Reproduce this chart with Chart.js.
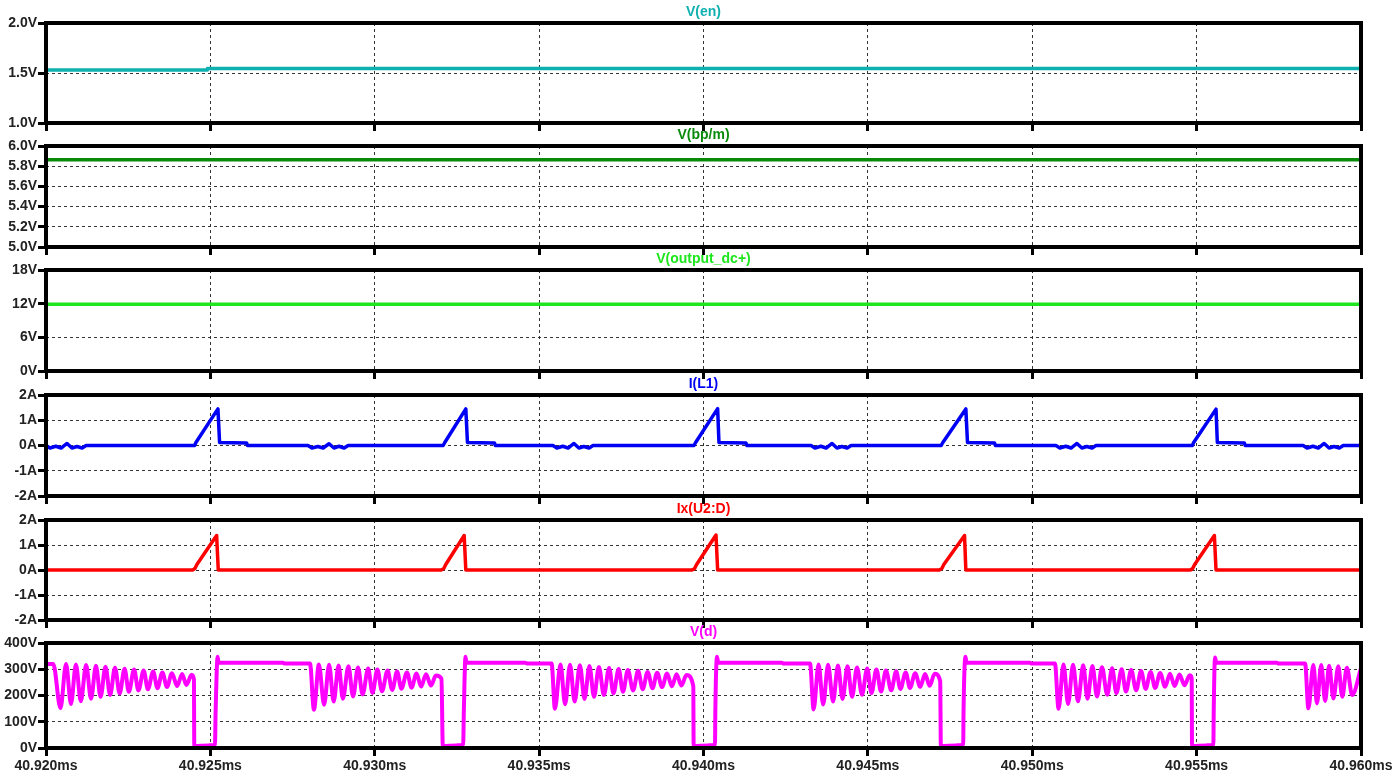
<!DOCTYPE html>
<html>
<head>
<meta charset="utf-8">
<title>Transient waveforms</title>
<script src="https://cdn.jsdelivr.net/npm/chart.js@4.4.1/dist/chart.umd.min.js"></script>
<style>
  html, body { margin: 0; padding: 0; background: #fff; }
  body { width: 1400px; height: 779px; position: relative; overflow: hidden; }
  .panel { position: absolute; left: 0; width: 1400px; }
</style>
</head>
<body>
<div class="panel" style="top:1px;height:132px"><canvas id="pEn"></canvas></div>
<div class="panel" style="top:124px;height:133px"><canvas id="pBp"></canvas></div>
<div class="panel" style="top:248px;height:133px"><canvas id="pOut"></canvas></div>
<div class="panel" style="top:373px;height:133px"><canvas id="pIl1"></canvas></div>
<div class="panel" style="top:498px;height:132px"><canvas id="pIx"></canvas></div>
<div class="panel" style="top:621px;height:158px"><canvas id="pVd"></canvas></div>
<script>
// time axis (ms)
const xTicks = [40.920, 40.925, 40.930, 40.935, 40.940, 40.945, 40.950, 40.955, 40.960];

// y tick values per pane
const enTicks = [1.0, 1.5, 2.0];
const bpTicks = [5.0, 5.2, 5.4, 5.6, 5.8, 6.0];
const outTicks = [0, 6, 12, 18];
const ampTicks = [-2, -1, 0, 1, 2];
const vdTicks = [0, 100, 200, 300, 400];

// V(en)
const enTime = [40.92000, 40.92490, 40.92491, 40.96000];
const enVolt = [1.53, 1.53, 1.545, 1.545];

// V(bp/m)
const bpTime = [40.92000, 40.96000];
const bpVolt = [5.865, 5.865];

// V(output_dc+)
const outTime = [40.92000, 40.96000];
const outVolt = [11.9, 11.9];

// I(L1)
const il1Time = [
  40.92000, 40.92012, 40.92030, 40.92046, 40.92064, 40.92079, 40.92094, 40.92110, 40.92122,
  40.92452, 40.92456, 40.92523, 40.92528, 40.92610, 40.92613,
  40.92797, 40.92809, 40.92827, 40.92843, 40.92861, 40.92876, 40.92891, 40.92907, 40.92919,
  40.93208, 40.93213, 40.93277, 40.93282, 40.93364, 40.93367,
  40.93542, 40.93554, 40.93572, 40.93588, 40.93606, 40.93621, 40.93636, 40.93652, 40.93664,
  40.93971, 40.93976, 40.94043, 40.94047, 40.94129, 40.94132,
  40.94327, 40.94339, 40.94357, 40.94373, 40.94391, 40.94406, 40.94421, 40.94437, 40.94449,
  40.94723, 40.94728, 40.94798, 40.94803, 40.94885, 40.94888,
  40.95072, 40.95084, 40.95102, 40.95118, 40.95136, 40.95151, 40.95166, 40.95182, 40.95194,
  40.95487, 40.95491, 40.95559, 40.95563, 40.95645, 40.95648,
  40.95824, 40.95836, 40.95854, 40.95870, 40.95888, 40.95903, 40.95918, 40.95934, 40.95946,
  40.96000
];
const il1Amp = [
  0, -0.1, -0.03, -0.1, 0.08, -0.1, -0.04, -0.1, 0,
  0, 0.12, 1.45, 0.12, 0.1, 0,
  0, -0.1, -0.04, -0.1, 0.07, -0.1, -0.03, -0.1, 0,
  0, 0.12, 1.45, 0.12, 0.1, 0,
  0, -0.1, -0.03, -0.1, 0.08, -0.1, -0.04, -0.1, 0,
  0, 0.12, 1.46, 0.12, 0.1, 0,
  0, -0.1, -0.03, -0.1, 0.08, -0.1, -0.04, -0.1, 0,
  0, 0.12, 1.45, 0.12, 0.1, 0,
  0, -0.1, -0.03, -0.1, 0.08, -0.1, -0.04, -0.1, 0,
  0, 0.12, 1.44, 0.12, 0.1, 0,
  0, -0.1, -0.03, -0.1, 0.08, -0.1, -0.04, -0.1, 0,
  0
];

// Ix(U2:D)
const ixTime = [
  40.92000,
  40.92446, 40.92453, 40.92459, 40.92519, 40.92524,
  40.93202, 40.93210, 40.93216, 40.93272, 40.93277,
  40.93965, 40.93973, 40.93979, 40.94038, 40.94043,
  40.94717, 40.94725, 40.94731, 40.94794, 40.94798,
  40.95481, 40.95488, 40.95494, 40.95554, 40.95559,
  40.96000
];
const ixAmp = [
  0,
  0, 0.06, 0.22, 1.38, 0,
  0, 0.06, 0.22, 1.38, 0,
  0, 0.06, 0.22, 1.40, 0,
  0, 0.06, 0.22, 1.38, 0,
  0, 0.06, 0.22, 1.38, 0,
  0
];

// V(d)
const vdTime = [
  40.92000, 40.92022, 40.92044, 40.92061, 40.92076, 40.92091, 40.92106, 40.92122, 40.92137, 40.92152,
  40.92166, 40.92181, 40.92195, 40.92210, 40.92224, 40.92239, 40.92252, 40.92268, 40.92281, 40.92297,
  40.92310, 40.92326, 40.92339, 40.92354, 40.92368, 40.92383, 40.92399, 40.92414, 40.92427, 40.92443,
  40.92450,
  40.92451, 40.92496, 40.92514, 40.92516, 40.92522, 40.92525, 40.92721, 40.92724, 40.92803,
  40.92815, 40.92830, 40.92846, 40.92861, 40.92875, 40.92890, 40.92903, 40.92920, 40.92934, 40.92949,
  40.92963, 40.92980, 40.92993, 40.93008, 40.93022, 40.93039, 40.93053, 40.93068, 40.93081, 40.93098,
  40.93112, 40.93127, 40.93141, 40.93156, 40.93171, 40.93186, 40.93203,
  40.93207, 40.93250, 40.93269, 40.93271, 40.93276, 40.93279, 40.93457, 40.93463, 40.93538,
  40.93548, 40.93565, 40.93579, 40.93594, 40.93608, 40.93624, 40.93638, 40.93653, 40.93667, 40.93682,
  40.93697, 40.93713, 40.93726, 40.93742, 40.93755, 40.93770, 40.93786, 40.93801, 40.93815, 40.93830,
  40.93845, 40.93859, 40.93874, 40.93889, 40.93904, 40.93918, 40.93933, 40.93948, 40.93969,
  40.93970, 40.94015, 40.94035, 40.94036, 40.94041, 40.94045, 40.94238, 40.94242, 40.94324,
  40.94335, 40.94350, 40.94364, 40.94379, 40.94394, 40.94409, 40.94423, 40.94438, 40.94452, 40.94467,
  40.94482, 40.94498, 40.94511, 40.94526, 40.94540, 40.94555, 40.94571, 40.94586, 40.94599, 40.94615,
  40.94628, 40.94644, 40.94659, 40.94674, 40.94688, 40.94703, 40.94720,
  40.94722, 40.94770, 40.94790, 40.94791, 40.94797, 40.94800, 40.94993, 40.94996, 40.95069,
  40.95080, 40.95095, 40.95109, 40.95124, 40.95139, 40.95155, 40.95168, 40.95183, 40.95197, 40.95212,
  40.95228, 40.95243, 40.95256, 40.95272, 40.95285, 40.95301, 40.95316, 40.95331, 40.95345, 40.95360,
  40.95374, 40.95389, 40.95404, 40.95419, 40.95433, 40.95448, 40.95463, 40.95479, 40.95485,
  40.95486, 40.95531, 40.95551, 40.95552, 40.95556, 40.95560, 40.95744, 40.95748, 40.95830,
  40.95840, 40.95855, 40.95866, 40.95879, 40.95891, 40.95903, 40.95916, 40.95931, 40.95943, 40.95957,
  40.95973, 40.96000
];
const vdVolt = [
  320, 320, 152, 320, 168, 318, 178, 316, 188, 313,
  195, 310, 202, 306, 208, 302, 214, 299, 219, 295,
  224, 291, 228, 288, 232, 285, 236, 282, 240, 279,
  262,
  7, 10, 12, 140, 348, 325, 325, 322, 322,
  146, 318, 165, 317, 177, 314, 188, 311, 196, 307,
  204, 303, 210, 299, 216, 295, 221, 291, 226, 288,
  230, 284, 234, 281, 238, 276, 264,
  7, 10, 12, 140, 348, 325, 325, 322, 322,
  150, 318, 167, 317, 177, 315, 187, 312, 195, 309,
  202, 305, 208, 301, 214, 297, 219, 294, 224, 290,
  228, 287, 232, 284, 235, 281, 238, 278, 236,
  7, 10, 12, 140, 348, 325, 325, 322, 322,
  147, 318, 166, 317, 177, 314, 187, 311, 195, 307,
  203, 303, 209, 299, 215, 295, 220, 292, 225, 288,
  229, 285, 233, 282, 237, 283, 255,
  7, 10, 12, 140, 348, 325, 325, 322, 322,
  150, 318, 168, 317, 178, 315, 188, 312, 196, 308,
  203, 304, 209, 300, 215, 297, 220, 293, 225, 290,
  229, 286, 233, 283, 236, 280, 239, 277, 267,
  7, 10, 12, 140, 345, 325, 325, 322, 322,
  151, 316, 170, 316, 179, 313, 189, 311, 195, 306,
  202, 303
];

const tickFont = { family: '"Liberation Sans", Arial, sans-serif', size: 14, weight: 'bold' };

function toPoints(times, vals) {
  return times.map((t, i) => ({ x: t, y: vals[i] }));
}

// black frame around each plot plus the coloured trace name above it
const panelFrame = {
  id: 'panelFrame',
  afterDatasetsDraw(chart) {
    const { ctx, chartArea: a } = chart;
    ctx.save();
    ctx.lineWidth = 4;
    ctx.strokeStyle = '#000';
    ctx.strokeRect(a.left, a.top, a.right - a.left, a.bottom - a.top);
    ctx.restore();
  },
  afterDraw(chart, args, opts) {
    const { ctx, chartArea: a } = chart;
    ctx.save();
    ctx.font = 'bold 14px "Liberation Sans", Arial, sans-serif';
    ctx.fillStyle = opts.color;
    ctx.textAlign = 'center';
    ctx.textBaseline = 'middle';
    ctx.fillText(opts.title, (a.left + a.right) / 2, a.top - 11);
    ctx.restore();
  }
};

function makePanel(id, p) {
  new Chart(document.getElementById(id), {
    type: 'line',
    data: {
      datasets: [{
        data: toPoints(p.times, p.values),
        borderColor: p.color,
        borderWidth: p.width || 3.5,
        borderJoinStyle: 'round',
        pointRadius: 0,
        fill: false,
        tension: 0,
        cubicInterpolationMode: p.smooth ? 'monotone' : 'default'
      }]
    },
    options: {
      responsive: true,
      maintainAspectRatio: false,
      animation: false,
      events: [],
      layout: { padding: { left: 0, right: 39, top: 22, bottom: p.showX ? 1 : 10 } },
      plugins: {
        legend: { display: false },
        tooltip: { enabled: false },
        panelFrame: { title: p.title, color: p.color }
      },
      scales: {
        x: {
          type: 'linear',
          min: xTicks[0],
          max: xTicks[xTicks.length - 1],
          afterBuildTicks: s => { s.ticks = xTicks.map(v => ({ value: v })); },
          afterFit: s => { s.height = p.showX ? 30 : 0; },
          ticks: {
            display: p.showX, autoSkip: false, maxRotation: 0, padding: 2,
            font: tickFont, color: '#222',
            callback: v => v.toFixed(3) + 'ms'
          },
          grid: {
            color: '#333', lineWidth: 1, drawTicks: p.showX,
            tickLength: 8, tickWidth: 3, tickColor: '#000', tickBorderDash: []
          },
          border: { display: false, dash: [3, 3] }
        },
        y: {
          type: 'linear',
          min: p.ticks[0],
          max: p.ticks[p.ticks.length - 1],
          afterBuildTicks: s => { s.ticks = p.ticks.map(v => ({ value: v })); },
          afterFit: s => { s.width = 46; },
          ticks: {
            padding: 1, font: tickFont, color: '#222',
            callback: v => v.toFixed(p.dec) + p.unit
          },
          grid: {
            color: '#333', lineWidth: 1,
            tickLength: 8, tickWidth: 3, tickColor: '#000', tickBorderDash: []
          },
          border: { display: false, dash: [3, 3] }
        }
      }
    },
    plugins: [panelFrame]
  });
}

makePanel('pEn', { title: 'V(en)', color: '#0fb0b0', times: enTime, values: enVolt, ticks: enTicks, dec: 1, unit: 'V' });
makePanel('pBp', { title: 'V(bp/m)', color: '#0a8a0a', times: bpTime, values: bpVolt, ticks: bpTicks, dec: 1, unit: 'V' });
makePanel('pOut', { title: 'V(output_dc+)', color: '#1ee61e', times: outTime, values: outVolt, ticks: outTicks, dec: 0, unit: 'V' });
makePanel('pIl1', { title: 'I(L1)', color: '#0000f5', times: il1Time, values: il1Amp, ticks: ampTicks, dec: 0, unit: 'A' });
makePanel('pIx', { title: 'Ix(U2:D)', color: '#ff0000', times: ixTime, values: ixAmp, ticks: ampTicks, dec: 0, unit: 'A' });
makePanel('pVd', { title: 'V(d)', color: '#ff00ff', times: vdTime, values: vdVolt, ticks: vdTicks, dec: 0, unit: 'V', showX: true, smooth: true, width: 4 });
</script>
</body>
</html>
